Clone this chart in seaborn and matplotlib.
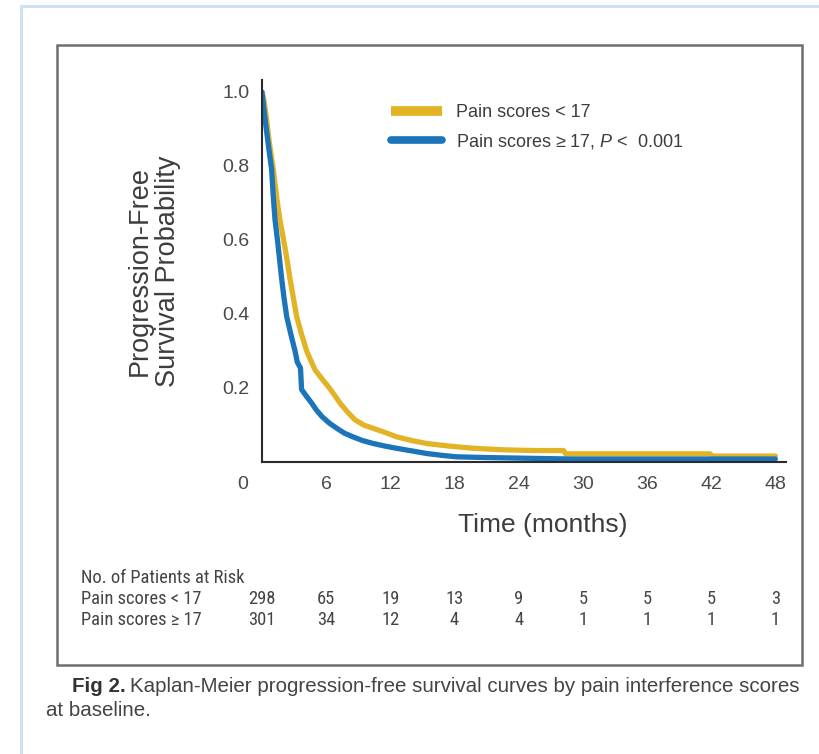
import numpy as np
import pandas as pd
import matplotlib
matplotlib.use("Agg")
import matplotlib.pyplot as plt
import seaborn as sns
from matplotlib import font_manager
from matplotlib.transforms import ScaledTranslation, blended_transform_factory
from matplotlib.patches import Rectangle
from matplotlib.lines import Line2D

# ---------------- data ----------------
time_low = [0, 0.2, 0.44, 0.7, 1.06, 1.35, 1.68, 2.06, 2.35, 2.62, 2.95, 3.24, 3.7, 4.18,
            4.55, 4.96, 5.6, 6.3, 6.8, 7.3, 8.0, 8.7, 9.5, 10.4, 11.5, 12.6, 14.0, 15.4,
            17.5, 19.8, 22.5, 25.4, 28.2, 28.4, 41.9, 42.1, 48.0]
surv_low = [1.0, 0.975, 0.924, 0.86, 0.79, 0.72, 0.654, 0.594, 0.545, 0.495, 0.44, 0.393,
            0.345, 0.30, 0.275, 0.249, 0.225, 0.20, 0.18, 0.159, 0.135, 0.114, 0.10, 0.091,
            0.08, 0.068, 0.058, 0.05, 0.043, 0.037, 0.033, 0.031, 0.031, 0.022, 0.022,
            0.016, 0.016]

time_high = [0, 0.15, 0.3, 0.6, 0.9, 1.05, 1.22, 1.47, 1.84, 2.05, 2.31, 2.7, 3.09, 3.3,
             3.6, 3.7, 4.15, 4.65, 5.1, 5.6, 6.3, 7.0, 7.7, 8.5, 9.4, 10.4, 11.5, 12.6,
             14.0, 15.4, 16.8, 18.2, 21.0, 25.0, 29.0, 48.0]
surv_high = [1.0, 0.96, 0.924, 0.855, 0.79, 0.72, 0.654, 0.594, 0.495, 0.445, 0.393, 0.345,
             0.30, 0.27, 0.254, 0.196, 0.178, 0.159, 0.14, 0.123, 0.105, 0.091, 0.078,
             0.068, 0.058, 0.05, 0.043, 0.037, 0.03, 0.023, 0.018, 0.014, 0.012, 0.010,
             0.008, 0.008]

legend_labels = ["Pain scores < 17", "Pain scores \u2265 17, $P$ <  0.001"]
risk_labels = ["Pain scores < 17", "Pain scores \u2265 17"]
risk_times = [0, 6, 12, 18, 24, 30, 36, 42, 48]
risk_low = [298, 65, 19, 13, 9, 5, 5, 5, 3]
risk_high = [301, 34, 12, 4, 4, 1, 1, 1, 1]
x_ticks = [0, 6, 12, 18, 24, 30, 36, 42, 48]
y_ticks = [0.2, 0.4, 0.6, 0.8, 1.0]
y_ticklabels = ["0.2", "0.4", "0.6", "0.8", "1.0"]

YELLOW = "#E2B425"
BLUE = "#1C74B9"
TXT = "#3d3d3d"

# ---------------- style ----------------
sns.set_style("white")
names = {f.name for f in font_manager.fontManager.ttflist}
MAIN = "Liberation Sans" if "Liberation Sans" in names else "DejaVu Sans"
COND, COND_SIZE = MAIN, 12.2
for cand in ["Liberation Sans Narrow", "Roboto Condensed", "DejaVu Sans Condensed",
             "Open Sans Condensed", "Arial Narrow"]:
    if cand in names:
        COND, COND_SIZE = cand, 13.3
        break
plt.rcParams["font.family"] = [MAIN, "DejaVu Sans"]
plt.rcParams["mathtext.fontset"] = "custom"
plt.rcParams["mathtext.it"] = MAIN + ":italic"
plt.rcParams["mathtext.rm"] = MAIN

W, H = 820, 754
fig = plt.figure(figsize=(W / 100, H / 100), dpi=100)
fig.patch.set_facecolor("white")

# axes placement (pixels of reference)
x0_px, x1_px, y0_px, y1_px = 262, 786, 462, 80
ax = fig.add_axes([x0_px / W, 1 - y0_px / H, (x1_px - x0_px) / W, (y0_px - y1_px) / H])
ax.set_facecolor("white")

df = pd.concat([
    pd.DataFrame({"Time": time_low, "Survival": surv_low, "Group": legend_labels[0]}),
    pd.DataFrame({"Time": time_high, "Survival": surv_high, "Group": legend_labels[1]}),
], ignore_index=True)

sns.lineplot(data=df, x="Time", y="Survival", hue="Group", hue_order=legend_labels,
             palette=[YELLOW, BLUE], estimator=None, sort=False,
             linewidth=3.8, ax=ax)

ax.set_xlim(0, 49.0)
ax.set_ylim(0, (y0_px - y1_px) / 370)
for s in ["top", "right"]:
    ax.spines[s].set_visible(False)
for s in ["left", "bottom"]:
    ax.spines[s].set_color("#2b2b2b")
    ax.spines[s].set_linewidth(1.5)

ax.set_yticks(y_ticks)
ax.set_yticklabels(y_ticklabels)
ax.set_xticks(x_ticks)
ax.set_xticklabels([str(t) for t in x_ticks])
ax.tick_params(axis="both", direction="out", length=6, width=1.3, color="#2b2b2b",
               labelsize=14, labelcolor="#4a4a4a", pad=3)
ax.tick_params(axis="x", pad=4)

ax.set_xlabel("Time (months)", fontsize=19, color=TXT)
ax.xaxis.set_label_coords((543 - x0_px) / (x1_px - x0_px), -(525 - y0_px) / (y0_px - y1_px))
ax.xaxis.label.set_va("center")
ax.set_ylabel("Progression-Free\nSurvival Probability", fontsize=19.5, color=TXT,
              linespacing=1.1)
ax.yaxis.set_label_coords((154 - x0_px) / (x1_px - x0_px), (y0_px - 271) / (y0_px - y1_px))
ax.yaxis.label.set_va("center")

# legend
handles, labels = ax.get_legend_handles_labels()
leg = ax.legend(handles, labels, loc="upper left", bbox_to_anchor=(391 / W, 1 - 104 / H),
                bbox_transform=fig.transFigure, frameon=False, handlelength=2.85,
                handletextpad=0.75, labelspacing=0.62, borderpad=0, borderaxespad=0,
                fontsize=13)
for txt in leg.get_texts():
    txt.set_color(TXT)
for ln, lw, cap in zip(leg.get_lines(), [7, 5.5], ["butt", "round"]):
    ln.set_linewidth(lw)
    ln.set_solid_capstyle(cap)

# risk table
trans = blended_transform_factory(ax.transData, fig.transFigure)
tfont = dict(family=[COND, "DejaVu Sans"], fontsize=COND_SIZE, color="#444444")
fig.text(81 / W, 1 - 578 / H, "No. of Patients at Risk", va="center", ha="left", **tfont)
for row_y, lab, vals in [(599.5, risk_labels[0], risk_low), (620, risk_labels[1], risk_high)]:
    fig.text(81 / W, 1 - row_y / H, lab, va="center", ha="left", **tfont)
    for t, n in zip(risk_times, vals):
        ax.text(t, 1 - row_y / H, str(n), transform=trans, ha="center", va="center",
                clip_on=False, **tfont)

# frames
fig.add_artist(Line2D([21 / W, 21 / W], [0, 1 - 6 / H], transform=fig.transFigure,
                      color="#cfe0f1", lw=2.2))
fig.add_artist(Line2D([21 / W, 1], [1 - 6 / H, 1 - 6 / H], transform=fig.transFigure,
                      color="#cfe0f1", lw=2.2))
fig.add_artist(Rectangle((57 / W, 1 - 665 / H), (802 - 57) / W, (665 - 45) / H,
                         transform=fig.transFigure, fill=False, ec="#6f6f6f", lw=1.8))

# caption
cap_y1 = 1 - 687 / H
t_bold = fig.text(72 / W, cap_y1, "Fig 2.", fontsize=14.8, weight="bold", color="#333333",
                  va="center", ha="left")
fig.canvas.draw()
bb = t_bold.get_window_extent(renderer=fig.canvas.get_renderer())
fig.text((bb.x1 + 4) / W, cap_y1,
         "Kaplan-Meier progression-free survival curves by pain interference scores",
         fontsize=14.8, color="#444444", va="center", ha="left")
fig.text(46 / W, 1 - 711 / H, "at baseline.", fontsize=14.8, color="#444444",
         va="center", ha="left")

# shift the "0" x tick label left and hide its tick mark
ticks = ax.xaxis.get_major_ticks()
ticks[0].tick1line.set_visible(False)
ticks[0].label1.set_transform(ticks[0].label1.get_transform()
                              + ScaledTranslation(-19.5 / 100, 0, fig.dpi_scale_trans))

fig.savefig("out.png", dpi=100, facecolor="white")
